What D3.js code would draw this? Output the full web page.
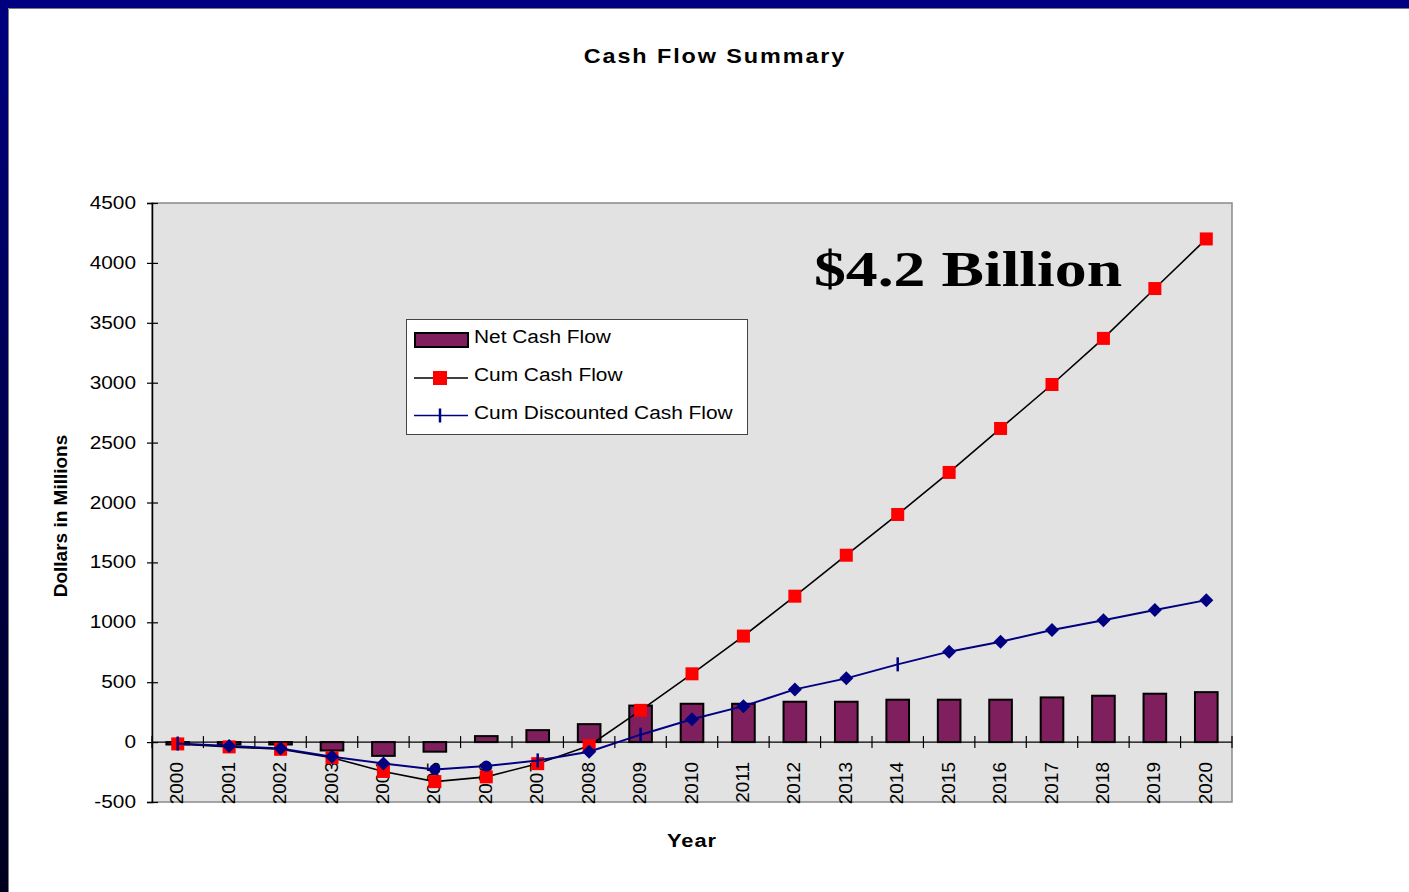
<!DOCTYPE html>
<html>
<head>
<meta charset="utf-8">
<script src="https://cdn.jsdelivr.net/npm/d3@7/dist/d3.min.js"></script>
<style>
  html, body { margin: 0; padding: 0; background: #ffffff; }
  svg { display: block; }
  text { font-family: Arial, "Liberation Sans", Helvetica, sans-serif; fill: #000; }
</style>
</head>
<body>
<svg id="chart" width="1409" height="892"></svg>
<script>
// ---- data ----
const years = ["2000","2001","2002","2003","2004","2005","2006","2007","2008","2009","2010",
               "2011","2012","2013","2014","2015","2016","2017","2018","2019","2020"];
const netCashFlow = [-20, -20, -20, -70, -115, -80, 50, 100, 150, 305, 320,
                     320, 337, 337, 354, 354, 354, 373, 387, 404, 417];
const cumCashFlow = [-15, -40, -60, -130, -245, -330, -290, -180, -30, 265, 570,
                     885, 1218, 1560, 1900, 2251, 2618, 2985, 3370, 3786, 4200];
const cumDiscountedCashFlow = [-12, -33, -53, -122, -178, -228, -200, -153, -80, 62, 190,
                               300, 440, 532, 649, 755, 838, 935, 1018, 1102, 1185];
// marker used at each point of the discounted series: d = diamond, p = plus, c = circle
const discountedMarkers = ["p","d","d","d","d","c","c","p","d","p","d",
                           "d","d","d","p","d","d","d","d","d","d"];
const yTicks = [-500, 0, 500, 1000, 1500, 2000, 2500, 3000, 3500, 4000, 4500];
const seriesNames = ["Net Cash Flow", "Cum Cash Flow", "Cum Discounted Cash Flow"];

const svg = d3.select("#chart");
const W = 1409, H = 892;

// ---- slide frame ----
const defs = svg.append("defs");
const grad = defs.append("linearGradient").attr("id", "sideGrad")
  .attr("x1", 0).attr("y1", 0).attr("x2", 0).attr("y2", 1);
grad.append("stop").attr("offset", "0%").attr("stop-color", "#000080");
grad.append("stop").attr("offset", "100%").attr("stop-color", "#00001c");

svg.append("rect").attr("x", 0).attr("y", 0).attr("width", W).attr("height", H).attr("fill", "#fff");
svg.append("rect").attr("x", 0).attr("y", 0).attr("width", W).attr("height", 8).attr("fill", "#000080");
svg.append("rect").attr("x", 0).attr("y", 0).attr("width", 8).attr("height", H).attr("fill", "url(#sideGrad)");
svg.append("line").attr("x1", 8.5).attr("x2", W).attr("y1", 8.5).attr("y2", 8.5)
  .attr("stroke", "#7a7a7a").attr("stroke-width", 1);
svg.append("line").attr("x1", 8.5).attr("x2", 8.5).attr("y1", 8.5).attr("y2", H)
  .attr("stroke", "#7a7a7a").attr("stroke-width", 1);

// horizontally widened text helper
function hText(g, x, y, str, opts) {
  const t = g.append("text")
    .attr("transform", `translate(${x},${y}) scale(${opts.sx || 1},1)`)
    .attr("text-anchor", opts.anchor || "start")
    .style("font-size", opts.size + "px")
    .text(str);
  if (opts.weight) t.style("font-weight", opts.weight);
  if (opts.family) t.style("font-family", opts.family);
  if (opts.spacing) t.style("letter-spacing", opts.spacing + "px");
  return t;
}

// ---- scales ----
const plot = { left: 152, right: 1232, top: 203, bottom: 802 };
const x = d3.scaleBand().domain(years).range([plot.left, plot.right])
  .paddingInner(0.56).paddingOuter(0.28);
const y = d3.scaleLinear().domain([-500, 4500]).range([plot.bottom, plot.top]);
const cx = d => x(d) + x.bandwidth() / 2;

// ---- plot area ----
svg.append("rect")
  .attr("x", plot.left).attr("y", plot.top)
  .attr("width", plot.right - plot.left).attr("height", plot.bottom - plot.top)
  .attr("fill", "#e2e2e2").attr("stroke", "#8a8a8a").attr("stroke-width", 1.5);

// y axis with crossing ticks
const yAxis = svg.append("g").attr("transform", `translate(${plot.left},0)`)
  .call(d3.axisLeft(y).tickValues(yTicks).tickSize(5).tickFormat(""));
yAxis.select(".domain").attr("stroke", "#000").attr("stroke-width", 1.5);
yAxis.selectAll(".tick line").attr("x1", 6).attr("x2", -5).attr("stroke", "#000").attr("stroke-width", 1.2);

yTicks.forEach(v => {
  hText(svg, 136, y(v) + 6, String(v), { size: 17.5, sx: 1.19, anchor: "end" });
});

// bars
svg.append("g").selectAll("rect").data(years).join("rect")
  .attr("x", d => x(d))
  .attr("width", x.bandwidth())
  .attr("y", (d, i) => y(Math.max(0, netCashFlow[i])))
  .attr("height", (d, i) => Math.abs(y(netCashFlow[i]) - y(0)))
  .attr("fill", "#7f1f5e").attr("stroke", "#000").attr("stroke-width", 2);

// x axis at zero with ticks between categories
const xAxisG = svg.append("g").attr("transform", `translate(0,${y(0)})`);
xAxisG.append("line").attr("x1", plot.left).attr("x2", plot.right)
  .attr("stroke", "#000").attr("stroke-width", 1.3);
const boundaries = years.map(d => cx(d) - x.step() / 2).concat([plot.right]);
xAxisG.selectAll("line.tk").data(boundaries).join("line").attr("class", "tk")
  .attr("x1", d => d).attr("x2", d => d).attr("y1", -6).attr("y2", 6)
  .attr("stroke", "#000").attr("stroke-width", 1.2);

// x tick labels, rotated
svg.append("g").selectAll("text").data(years).join("text")
  .attr("transform", d => `translate(${cx(d) + 5.5},762) rotate(-90)`)
  .attr("text-anchor", "end")
  .style("font-size", "19px")
  .text(d => d);

// cumulative cash flow line
const line = d3.line().x(d => cx(d[0])).y(d => y(d[1]));
svg.append("path")
  .datum(years.map((d, i) => [d, cumCashFlow[i]]))
  .attr("d", line).attr("fill", "none").attr("stroke", "#000").attr("stroke-width", 1.6);
svg.append("g").selectAll("rect").data(years).join("rect")
  .attr("x", d => cx(d) - 6.5).attr("y", (d, i) => y(cumCashFlow[i]) - 6.5)
  .attr("width", 13).attr("height", 13).attr("fill", "#ff0000");

// cumulative discounted cash flow line
svg.append("path")
  .datum(years.map((d, i) => [d, cumDiscountedCashFlow[i]]))
  .attr("d", line).attr("fill", "none").attr("stroke", "#000080").attr("stroke-width", 2);
const dm = svg.append("g");
years.forEach((d, i) => {
  const px = cx(d), py = y(cumDiscountedCashFlow[i]);
  const m = discountedMarkers[i];
  if (m === "d") {
    dm.append("path").attr("d", `M${px},${py - 7}L${px + 7},${py}L${px},${py + 7}L${px - 7},${py}Z`)
      .attr("fill", "#000080");
  } else if (m === "c") {
    dm.append("circle").attr("cx", px).attr("cy", py).attr("r", 5.5).attr("fill", "#000080");
  } else {
    dm.append("line").attr("x1", px).attr("x2", px).attr("y1", py - 7).attr("y2", py + 7)
      .attr("stroke", "#000080").attr("stroke-width", 2.5);
  }
});

// ---- legend ----
const lg = svg.append("g");
lg.append("rect").attr("x", 406.5).attr("y", 319.5).attr("width", 341).attr("height", 115)
  .attr("fill", "#fff").attr("stroke", "#444").attr("stroke-width", 1);
lg.append("rect").attr("x", 415).attr("y", 333).attr("width", 53).attr("height", 14)
  .attr("fill", "#7f1f5e").attr("stroke", "#000").attr("stroke-width", 2);
lg.append("line").attr("x1", 414).attr("x2", 468).attr("y1", 378).attr("y2", 378)
  .attr("stroke", "#000").attr("stroke-width", 1.6);
lg.append("rect").attr("x", 433).attr("y", 371).attr("width", 14).attr("height", 14).attr("fill", "#ff0000");
lg.append("line").attr("x1", 414).attr("x2", 468).attr("y1", 415.5).attr("y2", 415.5)
  .attr("stroke", "#000080").attr("stroke-width", 1.6);
lg.append("line").attr("x1", 440).attr("x2", 440).attr("y1", 408.5).attr("y2", 422.5)
  .attr("stroke", "#000080").attr("stroke-width", 2.5);
[342.5, 381, 419].forEach((by, i) => {
  hText(lg, 474, by, seriesNames[i], { size: 18, sx: 1.16 });
});

// ---- titles ----
hText(svg, 715, 63, "Cash Flow Summary", { size: 19.5, sx: 1.2, anchor: "middle", weight: "bold", spacing: 1.6 });
hText(svg, 692, 846.5, "Year", { size: 18.5, sx: 1.18, anchor: "middle", weight: "bold", spacing: 0.8 });
svg.append("text")
  .attr("transform", "translate(67,516) rotate(-90)")
  .attr("text-anchor", "middle")
  .style("font-size", "19px").style("font-weight", "bold")
  .text("Dollars in Millions");

// headline value
hText(svg, 968, 286, "$4.2 Billion",
  { size: 51, sx: 1.25, anchor: "middle", weight: "bold", family: "'Liberation Serif','DejaVu Serif',serif" });
</script>
</body>
</html>
